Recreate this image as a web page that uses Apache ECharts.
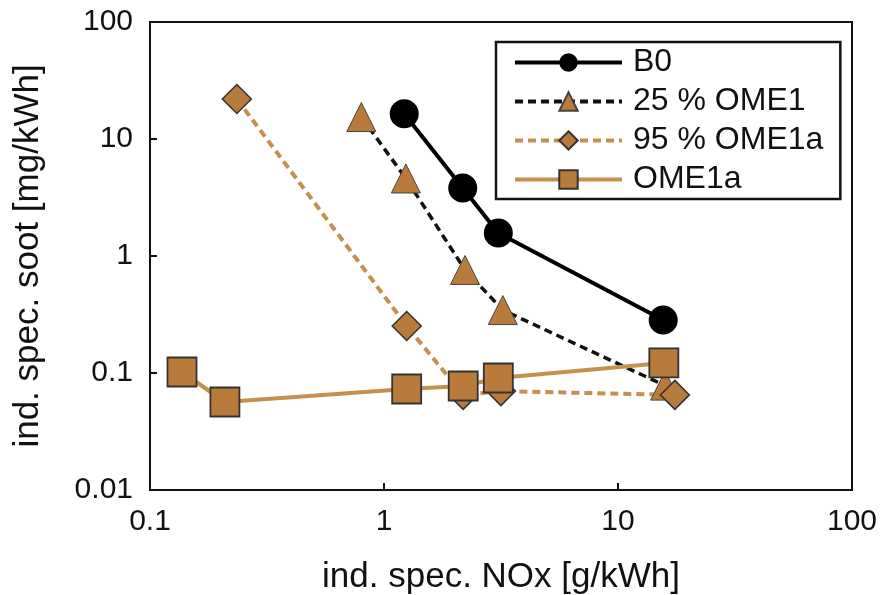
<!DOCTYPE html>
<html><head><meta charset="utf-8">
<script src="https://cdn.jsdelivr.net/npm/echarts@6/dist/echarts.min.js"></script>
<style>html,body{margin:0;padding:0;background:#fff}#c{width:882px;height:595px}</style>
</head><body><div id="c"></div>
<script>
const seriesNames = ['B0', '25 % OME1', '95 % OME1a', 'OME1a'];
const b0 = [[1.22, 16.4], [2.17, 3.81], [3.08, 1.57], [15.6, 0.284]];
const ome1_25 = [[0.80, 15.4], [1.24, 4.6], [2.22, 0.76], [3.22, 0.345], [15.9, 0.078]];
const ome1a_95 = [[0.235, 22], [1.25, 0.252], [2.18, 0.065], [3.16, 0.070], [17.5, 0.065]];
const ome1a = [[0.137, 0.102], [0.209, 0.0565], [1.25, 0.073], [2.18, 0.0774], [3.08, 0.0906], [15.7, 0.122]];
const xTicks = [0.1, 1, 10, 100];
const yTicks = [0.01, 0.1, 1, 10, 100];

const brown = '#b97b3c';
const brownLine = '#c4904f';
const font = '"Liberation Sans", Arial, sans-serif';
const fmt = v => { const r = [...xTicks, ...yTicks].find(t => Math.abs(t - v) / t < 1e-6); return r !== undefined ? String(r) : ''; };

const chart = echarts.init(document.getElementById('c'), null, {renderer: 'canvas'});
chart.setOption({
  animation: false,
  grid: {left: 150, right: 30, top: 22, bottom: 105, outerBoundsMode: 'none', containLabel: false,
         show: true, borderColor: '#111', borderWidth: 2, backgroundColor: 'transparent'},
  xAxis: {
    type: 'log', logBase: 10, min: 0.1, max: 100,
    name: 'ind. spec. NOx [g/kWh]', nameLocation: 'middle', nameGap: 70,
    nameTextStyle: {fontSize: 35, color: '#111', fontFamily: font},
    axisLine: {show: true, lineStyle: {color: '#111', width: 2}},
    axisTick: {show: true, inside: true, length: 7, lineStyle: {color: '#111', width: 2}},
    minorTick: {show: false}, splitLine: {show: false},
    axisLabel: {fontSize: 30, color: '#111', fontFamily: font, margin: 17, formatter: fmt}
  },
  yAxis: {
    type: 'log', logBase: 10, min: 0.01, max: 100,
    name: 'ind. spec. soot [mg/kWh]', nameLocation: 'middle', nameGap: 104,
    nameTextStyle: {fontSize: 35, color: '#111', fontFamily: font},
    axisLine: {show: true, lineStyle: {color: '#111', width: 2}},
    axisTick: {show: true, inside: true, length: 7, lineStyle: {color: '#111', width: 2}},
    splitLine: {show: false},
    axisLabel: {fontSize: 30, color: '#111', fontFamily: font, margin: 17, formatter: fmt}
  },
  legend: {
    orient: 'vertical', left: 496, top: 42,
    data: seriesNames,
    itemWidth: 107, itemHeight: 23, itemGap: 6,
    padding: [4, 17, 3, 17],
    borderColor: '#111', borderWidth: 2.5, backgroundColor: '#fff',
    lineStyle: {width: 4},
    textStyle: {fontSize: 32, color: '#111', fontFamily: font, lineHeight: 33, padding: [0, 0, 0, 6]}
  },
  series: [
    {name: 'B0', type: 'line', data: b0, z: 5, symbol: 'circle', symbolSize: 29,
     lineStyle: {color: '#000', width: 4}, itemStyle: {color: '#000', borderColor: '#000', borderWidth: 0}},
    {name: '25 % OME1', type: 'line', data: ome1_25, z: 2, symbol: 'triangle', symbolSize: 29,
     lineStyle: {color: '#111', width: 3.5, type: [8, 5]}, itemStyle: {color: brown, borderColor: '#444', borderWidth: 1}},
    {name: '95 % OME1a', type: 'line', data: ome1a_95, z: 2, symbol: 'diamond', symbolSize: 29,
     lineStyle: {color: brownLine, width: 4, type: [8, 5]}, itemStyle: {color: brown, borderColor: '#333', borderWidth: 1.5}},
    {name: 'OME1a', type: 'line', data: ome1a, z: 3, symbol: 'rect', symbolSize: 29,
     lineStyle: {color: brownLine, width: 4}, itemStyle: {color: brown, borderColor: '#333', borderWidth: 1.8}}
  ]
});
</script></body></html>
